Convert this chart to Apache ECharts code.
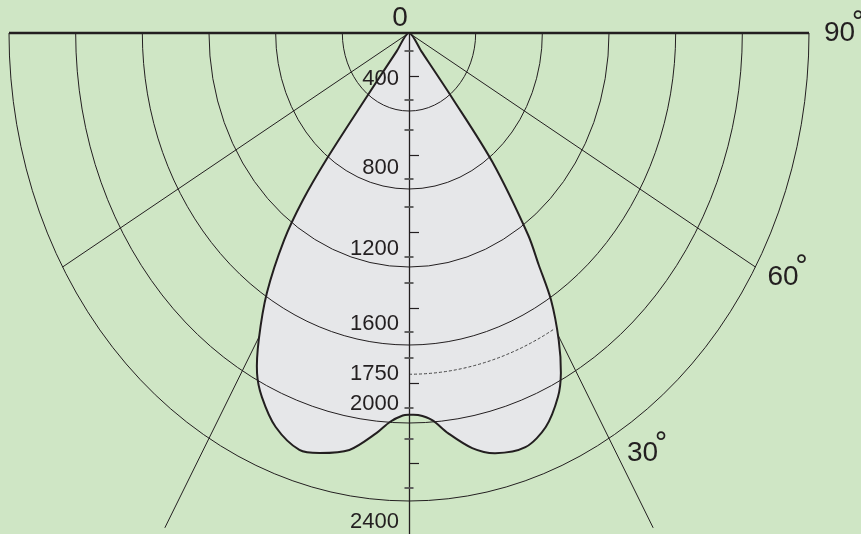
<!DOCTYPE html>
<html>
<head>
<meta charset="utf-8">
<title>Light distribution</title>
<script src="https://cdn.jsdelivr.net/npm/echarts@6/dist/echarts.min.js"></script>
<style>
  html, body { margin: 0; padding: 0; background: #cfe6c5; }
  #chart { width: 861px; height: 534px; }
</style>
</head>
<body>
<div id="chart"></div>
<script>
// luminous intensity curve: angle from nadir in degrees (negative = left side), intensity
const curveAngles = [-38.5, -38.3, -37.8, -37.4, -36.6, -35.2, -32.6, -29.8, -27.6, -25.3, -21.6,
  -17.1, -14.0, -9.5, -5.4, -3.3, -1.1, 0, 1.6, 4.0, 6.5, 10.1, 13.5, 18.2, 22.1, 25.6, 27.6,
  29.7, 31.9, 33.2, 34.6, 37.1, 37.9, 38.3];
const curveValues = [0, 120, 415, 810, 1070, 1300, 1583, 1814, 1968, 2065, 2173,
  2237, 2220, 2168, 2060, 1998, 1962, 1958, 1960, 1990, 2065, 2162, 2216, 2236, 2181, 2069, 1967,
  1813, 1612, 1422, 1260, 830, 422, 120];

// grid rings and the dashed one (drawn only from 0 to 30 deg on the right)
const ringValues = [400, 800, 1200, 1600, 2000, 2400];
const dashedRing = 1750;
const dashedRingTo = 30;

// ring labels along the vertical axis and where they sit on it
const ringLabels = ['400', '800', '1200', '1600', '1750', '2000', '2400'];
const ringLabelAt = [236, 692, 1105, 1490, 1746, 1900, 2505];

// ruler ticks on the vertical axis
const majorTicks = [220, 626, 1021, 1410, 1795, 2205];
const minorTicks = [92, 344, 497, 749, 892, 1149, 1282, 1533, 1667, 1923, 2082, 2333];

// radial lines
const spokeAngles = [-90, -60, -30, 30, 60, 90];
const spokeReach = [2400, 2400, 2930, 2930, 2400, 2400];

// angle labels on the right side
const angleLabels = [90, 60, 30];

const ink = '#231f20';
const font = 'Liberation Sans, Arial, sans-serif';

function toXY(deg, r) {
    const t = deg * Math.PI / 180;
    return [r * Math.sin(t), r * Math.cos(t)];
}

function curvePoints(api) {
    return curveAngles.map((a, i) => api.coord(toXY(a, curveValues[i])));
}

const chart = echarts.init(document.getElementById('chart'));

const tickAxis = (values, inside, length, color, width) => ({
    type: 'value', inverse: true, min: 0, max: 2600, position: 'left', z: 10,
    axisLine: {show: false, onZero: true, onZeroAxisIndex: 0},
    axisTick: {show: true, customValues: values, inside: inside, length: length,
        lineStyle: {color: color, width: width}},
    axisLabel: {show: false},
    splitLine: {show: false}
});

// offsets of the angle labels from the ring end point (px)
const angleLabelShift = {90: [15, 0], 60: [12, 10], 30: [18, 15]};

chart.setOption({
    backgroundColor: '#cfe6c5',
    animation: false,
    grid: {left: 4, width: 810, top: 33, height: 507, containLabel: false, outerBoundsMode: 'none'},
    xAxis: {type: 'value', min: -2430, max: 2430, show: false},
    yAxis: [
        {
            type: 'value', inverse: true, min: 0, max: 2600, position: 'left', z: 10,
            axisLine: {show: true, onZero: true, onZeroAxisIndex: 0, lineStyle: {color: ink, width: 1.3}},
            axisTick: {show: false},
            splitLine: {show: false},
            axisLabel: {show: false}
        },
        tickAxis(majorTicks, true, 10, ink, 1.2),
        tickAxis(minorTicks, true, 4.5, '#555', 1.8),
        tickAxis(minorTicks, false, 4.5, '#555', 1.8)
    ],
    series: [
        {
            // radial lines (under the fill)
            type: 'custom', coordinateSystem: 'cartesian2d', silent: true, z: 1,
            data: spokeAngles.map((a, i) => [a, spokeReach[i]]),
            renderItem: function (params, api) {
                const a = api.value(0);
                const p0 = api.coord([0, 0]);
                const p1 = api.coord(toXY(a, api.value(1)));
                return {
                    type: 'line',
                    shape: {x1: p0[0], y1: p0[1], x2: p1[0], y2: p1[1]},
                    style: {stroke: ink, lineWidth: Math.abs(a) === 90 ? 2.5 : 1}
                };
            }
        },
        {
            // fill of the intensity curve
            type: 'custom', coordinateSystem: 'cartesian2d', silent: true, z: 2,
            data: [[0, 0]],
            renderItem: function (params, api) {
                return {
                    type: 'polygon',
                    shape: {points: curvePoints(api), smooth: 0.3},
                    style: {fill: '#e6e7e9', stroke: null}
                };
            }
        },
        {
            // rings (lower half ellipses through the axis scales)
            type: 'custom', coordinateSystem: 'cartesian2d', silent: true, z: 3,
            data: ringValues.map(v => [v, 0]),
            renderItem: function (params, api) {
                const r = api.value(0);
                const c = api.coord([0, 0]);
                const rx = api.coord([r, 0])[0] - c[0];
                const ry = api.coord([0, r])[1] - c[1];
                return {
                    type: 'path',
                    shape: {pathData: 'M ' + (c[0] - rx) + ' ' + c[1] + ' A ' + rx + ' ' + ry +
                        ' 0 0 0 ' + (c[0] + rx) + ' ' + c[1]},
                    style: {fill: null, stroke: ink, lineWidth: 1}
                };
            }
        },
        {
            // dashed ring segment
            type: 'custom', coordinateSystem: 'cartesian2d', silent: true, z: 3,
            data: [[dashedRing, dashedRingTo]],
            renderItem: function (params, api) {
                const r = api.value(0);
                const c = api.coord([0, 0]);
                const rx = api.coord([r, 0])[0] - c[0];
                const ry = api.coord([0, r])[1] - c[1];
                const end = api.coord(toXY(api.value(1), r));
                return {
                    type: 'path',
                    shape: {pathData: 'M ' + c[0] + ' ' + (c[1] + ry) + ' A ' + rx + ' ' + ry +
                        ' 0 0 0 ' + end[0] + ' ' + end[1]},
                    style: {fill: null, stroke: '#444', lineWidth: 1, lineDash: [3, 2]}
                };
            }
        },
        {
            // outline of the intensity curve
            type: 'custom', coordinateSystem: 'cartesian2d', silent: true, z: 4,
            data: [[0, 0]],
            renderItem: function (params, api) {
                return {
                    type: 'polygon',
                    shape: {points: curvePoints(api), smooth: 0.3},
                    style: {fill: null, stroke: ink, lineWidth: 2}
                };
            }
        },
        {
            // ring values written beside the vertical axis
            type: 'custom', coordinateSystem: 'cartesian2d', silent: true, z: 5,
            data: ringLabelAt.map(v => [0, v]),
            renderItem: function (params, api) {
                const p = api.coord([api.value(0), api.value(1)]);
                return {
                    type: 'text', x: p[0] - 10, y: p[1],
                    style: {text: ringLabels[params.dataIndex], fontSize: 22, fontFamily: font,
                        fill: ink, align: 'right', verticalAlign: 'middle'}
                };
            }
        },
        {
            // "0" above the centre and the angle labels
            type: 'custom', coordinateSystem: 'cartesian2d', silent: true, z: 5,
            data: angleLabels.map(a => [a, ringValues[ringValues.length - 1]]),
            renderItem: function (params, api) {
                const a = api.value(0);
                const p = api.coord(toXY(a, api.value(1)));
                const s = angleLabelShift[a] || [14, 8];
                const children = [
                    {
                        type: 'text', x: p[0] + s[0], y: p[1] + s[1],
                        style: {text: String(a), fontSize: 28, fontFamily: font, fill: ink,
                            align: 'left', verticalAlign: 'middle'}
                    },
                    {
                        type: 'text', x: p[0] + s[0] + 34, y: p[1] + s[1] - 9,
                        style: {text: '°', fontSize: 28, fontFamily: 'DejaVu Sans', fill: ink,
                            align: 'center', verticalAlign: 'middle'}
                    }
                ];
                if (params.dataIndex === 0) {
                    const c = api.coord([0, 0]);
                    children.push({
                        type: 'text', x: c[0] - 9, y: c[1] - 15,
                        style: {text: '0', fontSize: 28, fontFamily: font, fill: ink,
                            align: 'center', verticalAlign: 'middle'}
                    });
                }
                return {type: 'group', children: children};
            }
        }
    ]
});
</script>
</body>
</html>
